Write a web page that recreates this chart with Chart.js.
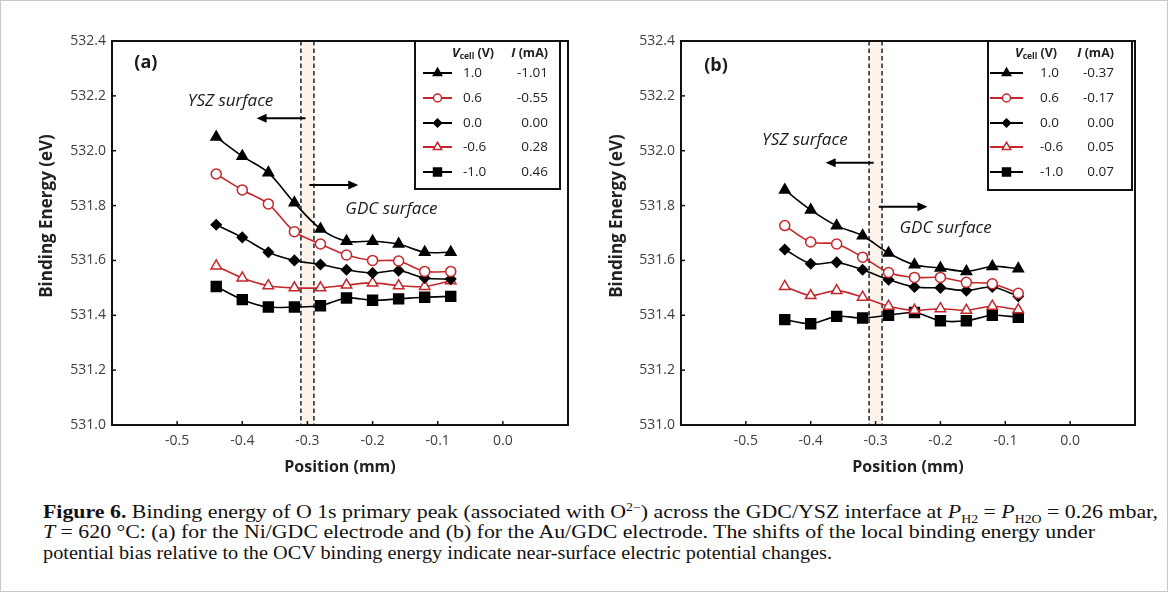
<!DOCTYPE html>
<html><head><meta charset="utf-8">
<script src="https://cdn.jsdelivr.net/npm/chart.js@4.4.1/dist/chart.umd.min.js"></script>
<style>
html,body{margin:0;padding:0;background:#fff;}
#fig{position:relative;width:1168px;height:592px;overflow:hidden;background:#fff;}
#frame{position:absolute;left:0;top:0;width:1168px;height:592px;box-sizing:border-box;border:1px solid #c8c8c8;pointer-events:none;}
.pane{position:absolute;top:0;width:584px;height:490px;}
#caption{position:absolute;left:43px;top:502px;font-family:'Liberation Serif','DejaVu Serif',serif;font-size:19px;line-height:20.3px;color:#111;white-space:nowrap;}
#caption .ln{display:inline-block;transform-origin:0 50%;}
#caption sub,#caption sup{font-size:12px;line-height:0;}
</style></head><body>
<div id="fig">
  <div class="pane" style="left:0"><canvas id="ca" width="584" height="490"></canvas></div>
  <div class="pane" style="left:569px"><canvas id="cb" width="584" height="490"></canvas></div>
  <div id="caption"><span class="ln" data-w="1115"><b>Figure 6.</b> Binding energy of O 1s primary peak (associated with O<sup>2−</sup>) across the GDC/YSZ interface at <i>P</i><sub>H2</sub> = <i>P</i><sub>H2O</sub> = 0.26 mbar,</span><br><span class="ln" data-w="1052"><i>T</i> = 620 °C: (a) for the Ni/GDC electrode and (b) for the Au/GDC electrode. The shifts of the local binding energy under</span><br><span class="ln" data-w="789">potential bias relative to the OCV binding energy indicate near-surface electric potential changes.</span></div>
  <div id="frame"></div>
</div>
<script>
// ---------- DATA ----------
const positions = [-0.44, -0.40, -0.36, -0.32, -0.28, -0.24, -0.20, -0.16, -0.12, -0.08];
const vcellLabels = ['1.0', '0.6', '0.0', '-0.6', '-1.0'];
const currentA = ['-1.01', '-0.55', '0.00', '0.28', '0.46'];
const currentB = ['-0.37', '-0.17', '0.00', '0.05', '0.07'];
const yTicks = [531.0, 531.2, 531.4, 531.6, 531.8, 532.0, 532.2, 532.4];
const xTickLabels = ['-0.5', '-0.4', '-0.3', '-0.2', '-0.1', '0.0'];

// Panel (a): Ni/GDC electrode
const a_p10 = [532.05, 531.98, 531.92, 531.81, 531.715, 531.67, 531.67, 531.66, 531.63, 531.63];
const a_p06 = [531.915, 531.857, 531.806, 531.705, 531.66, 531.62, 531.60, 531.598, 531.56, 531.56];
const a_00  = [531.73, 531.684, 531.63, 531.60, 531.585, 531.566, 531.554, 531.563, 531.536, 531.532];
const a_m06 = [531.58, 531.536, 531.508, 531.50, 531.50, 531.51, 531.518, 531.508, 531.505, 531.526];
const a_m10 = [531.505, 531.457, 531.43, 531.43, 531.435, 531.463, 531.455, 531.46, 531.466, 531.469];

// Panel (b): Au/GDC electrode
const b_p10 = [531.857, 531.784, 531.726, 531.69, 531.627, 531.584, 531.572, 531.56, 531.578, 531.57];
const b_p06 = [531.727, 531.667, 531.66, 531.612, 531.556, 531.538, 531.538, 531.52, 531.515, 531.48];
const b_00  = [531.64, 531.588, 531.593, 531.566, 531.53, 531.503, 531.50, 531.49, 531.503, 531.469];
const b_m06 = [531.505, 531.472, 531.49, 531.466, 531.433, 531.418, 531.424, 531.418, 531.433, 531.42];
const b_m10 = [531.384, 531.369, 531.396, 531.39, 531.40, 531.41, 531.38, 531.38, 531.40, 531.393];

const interfaceBand = [-0.31, -0.29];

// ---------- STYLE ----------
const RED = '#c3262b';
const FONT = "'Open Sans', 'Noto Sans', sans-serif";
const seriesStyles = [
  {color: '#000', pointStyle: 'triangle', radius: 6, fill: '#000'},
  {color: RED,    pointStyle: 'circle',   radius: 5, fill: '#fff'},
  {color: '#000', pointStyle: 'rectRot',  radius: 5, fill: '#000'},
  {color: RED,    pointStyle: 'triangle', radius: 6, fill: '#fff'},
  {color: '#000', pointStyle: 'rect',     radius: 7, fill: '#000'}
];

function drawMarker(ctx, st, x, y, scale) {
  const r = st.radius * scale;
  ctx.save();
  ctx.fillStyle = st.fill; ctx.strokeStyle = st.color; ctx.lineWidth = 1.5;
  ctx.beginPath();
  if (st.pointStyle === 'triangle') {
    ctx.moveTo(x, y - r); ctx.lineTo(x + r * 0.866, y + r * 0.5); ctx.lineTo(x - r * 0.866, y + r * 0.5); ctx.closePath();
  } else if (st.pointStyle === 'circle') {
    ctx.arc(x, y, r, 0, Math.PI * 2);
  } else if (st.pointStyle === 'rectRot') {
    ctx.moveTo(x, y - r); ctx.lineTo(x + r, y); ctx.lineTo(x, y + r); ctx.lineTo(x - r, y); ctx.closePath();
  } else {
    const s = r * 0.7071; ctx.rect(x - s, y - s, 2 * s, 2 * s);
  }
  ctx.fill(); ctx.stroke(); ctx.restore();
}

function arrow(ctx, x1, y, x2) {
  const dir = Math.sign(x2 - x1);
  ctx.save();
  ctx.strokeStyle = '#000'; ctx.fillStyle = '#000'; ctx.lineWidth = 2;
  ctx.beginPath(); ctx.moveTo(x1, y); ctx.lineTo(x2 - dir * 8, y); ctx.stroke();
  ctx.beginPath(); ctx.moveTo(x2, y); ctx.lineTo(x2 - dir * 10, y - 4.5); ctx.lineTo(x2 - dir * 10, y + 4.5); ctx.closePath(); ctx.fill();
  ctx.restore();
}

const decorPlugin = {
  id: 'decor',
  beforeDatasetsDraw(chart, args, o) {
    const {ctx, chartArea: ca, scales: {x, y}} = chart;
    const bx1 = x.getPixelForValue(interfaceBand[0]), bx2 = x.getPixelForValue(interfaceBand[1]);
    ctx.save();
    ctx.fillStyle = '#fdf3ea';
    ctx.fillRect(bx1, ca.top, bx2 - bx1, ca.bottom - ca.top);
    ctx.strokeStyle = '#222'; ctx.lineWidth = 1.5; ctx.setLineDash([4.5, 3]);
    [bx1, bx2].forEach(px => { ctx.beginPath(); ctx.moveTo(px, ca.top); ctx.lineTo(px, ca.bottom); ctx.stroke(); });
    ctx.restore();
    o.arrows.forEach(a => arrow(ctx, x.getPixelForValue(a.from), y.getPixelForValue(a.y), x.getPixelForValue(a.to)));
    ctx.save();
    ctx.textAlign = 'center'; ctx.textBaseline = 'middle';
    o.texts.forEach(t => {
      ctx.font = t.font; ctx.fillStyle = '#1a1a1a';
      ctx.fillText(t.text, x.getPixelForValue(t.x), y.getPixelForValue(t.y));
    });
    ctx.restore();
  },
  afterDraw(chart, args, o) {
    const {ctx, chartArea: ca, scales: {x, y}} = chart;
    ctx.save();
    ctx.strokeStyle = '#111'; ctx.lineWidth = 1.5;
    y.ticks.forEach(t => { const py = y.getPixelForValue(t.value); ctx.beginPath(); ctx.moveTo(ca.left, py); ctx.lineTo(ca.left + 4, py); ctx.stroke(); });
    x.ticks.forEach(t => { const px = x.getPixelForValue(t.value); ctx.beginPath(); ctx.moveTo(px, ca.bottom); ctx.lineTo(px, ca.bottom - 4); ctx.stroke(); });
    ctx.strokeStyle = '#111'; ctx.lineWidth = 2;
    ctx.strokeRect(ca.left, ca.top, ca.right - ca.left, ca.bottom - ca.top);
    ctx.save();
    ctx.translate(o.yTitle.x, o.yTitle.y); ctx.rotate(-Math.PI / 2);
    ctx.font = "bold 17px " + FONT; ctx.fillStyle = '#222'; ctx.textAlign = 'center'; ctx.textBaseline = 'middle';
    ctx.fillText('Binding Energy (eV)', 0, 0);
    ctx.restore();
    const L = o.legend;
    ctx.fillStyle = '#fff';
    ctx.fillRect(L.left, L.top, L.right - L.left, L.bottom - L.top);
    ctx.strokeStyle = '#111'; ctx.lineWidth = 2;
    ctx.strokeRect(L.left, L.top, L.right - L.left, L.bottom - L.top);
    ctx.fillStyle = '#222'; ctx.textBaseline = 'middle';
    let hx = L.hdrV;
    ctx.textAlign = 'left';
    ctx.font = "italic bold 13px " + FONT; ctx.fillText('V', hx, L.hdrY); hx += ctx.measureText('V').width;
    ctx.font = "bold 8.5px " + FONT; ctx.fillText('cell', hx, L.hdrY + 4); hx += ctx.measureText('cell').width;
    ctx.font = "bold 12.5px " + FONT; ctx.fillText(' (V)', hx, L.hdrY);
    ctx.font = "bold 12.5px " + FONT;
    const mw = ctx.measureText(' (mA)').width;
    ctx.textAlign = 'right'; ctx.fillText(' (mA)', L.curR, L.hdrY);
    ctx.font = "italic bold 13px " + FONT; ctx.fillText('I', L.curR - mw, L.hdrY);
    ctx.font = "13.5px " + FONT;
    o.currents.forEach((c, i) => {
      const ry = L.rows[i], st = seriesStyles[i];
      ctx.strokeStyle = st.color; ctx.lineWidth = 2;
      ctx.beginPath(); ctx.moveTo(L.lineX1, ry); ctx.lineTo(L.lineX2, ry); ctx.stroke();
      drawMarker(ctx, st, (L.lineX1 + L.lineX2) / 2, ry, 0.8);
      ctx.fillStyle = '#222'; ctx.textAlign = 'left'; ctx.fillText(vcellLabels[i], L.valX, ry);
      ctx.textAlign = 'right'; ctx.fillText(c, L.curR, ry);
    });
    ctx.restore();
  }
};

function makePanel(id, series, currents, padRight, decor) {
  const datasets = series.map((vals, i) => {
    const st = seriesStyles[i];
    return {
      label: vcellLabels[i],
      data: positions.map((p, k) => ({x: p, y: vals[k]})),
      borderColor: st.color, borderWidth: 1.6,
      pointStyle: st.pointStyle, pointRadius: st.radius, pointHoverRadius: st.radius,
      pointBackgroundColor: st.fill, pointBorderColor: st.color, pointBorderWidth: 1.5,
      tension: 0.3, fill: false
    };
  });
  decor.currents = currents;
  return new Chart(document.getElementById(id), {
    type: 'line',
    data: {datasets},
    options: {
      responsive: false, animation: false, devicePixelRatio: 1,
      layout: {padding: {left: 0, top: 41, right: padRight, bottom: 0}},
      plugins: {legend: {display: false}, tooltip: {enabled: false}, decor},
      scales: {
        x: {
          type: 'linear', min: -0.6, max: 0.1,
          afterFit: s => { s.height = 65; },
          grid: {display: false, drawTicks: false},
          border: {display: false},
          ticks: {
            stepSize: 0.1, padding: 8, color: '#404040', font: {family: FONT, size: 14},
            callback: v => { const s = (Math.abs(v) < 1e-9 ? 0 : v).toFixed(1); return xTickLabels.includes(s) ? s : ''; }
          },
          title: {display: true, text: 'Position (mm)', color: '#222', font: {family: FONT, size: 16, weight: 'bold'}, padding: {top: 0, bottom: 13}}
        },
        y: {
          type: 'linear', min: yTicks[0], max: yTicks[yTicks.length - 1],
          afterFit: s => { s.width = 112; },
          grid: {display: false, drawTicks: false},
          border: {display: false},
          ticks: {stepSize: 0.2, padding: 6, color: '#404040', font: {family: FONT, size: 14}, callback: v => v.toFixed(1)}
        }
      }
    },
    plugins: [decorPlugin]
  });
}

makePanel('ca', [a_p10, a_p06, a_00, a_m06, a_m10], currentA, 16, {
  yTitle: {x: 47, y: 216},
  arrows: [{from: -0.303, to: -0.378, y: 532.118}, {from: -0.297, to: -0.222, y: 531.875}],
  texts: [
    {text: '(a)', x: -0.548, y: 532.32, font: "bold 18px " + FONT},
    {text: 'YSZ surface', x: -0.418, y: 532.18, font: "italic 17px " + FONT},
    {text: 'GDC surface', x: -0.171, y: 531.788, font: "italic 17px " + FONT}
  ],
  legend: {left: 415, right: 560, top: 41, bottom: 189, hdrY: 53, hdrV: 452, rows: [73, 98, 123, 147, 172],
           lineX1: 423, lineX2: 452, valX: 463, curR: 548}
});

makePanel('cb', [b_p10, b_p06, b_00, b_m06, b_m10], currentB, 18, {
  yTitle: {x: 48, y: 216},
  arrows: [{from: -0.303, to: -0.377, y: 531.956}, {from: -0.295, to: -0.220, y: 531.796}],
  texts: [
    {text: '(b)', x: -0.546, y: 532.31, font: "bold 18px " + FONT},
    {text: 'YSZ surface', x: -0.409, y: 532.04, font: "italic 17px " + FONT},
    {text: 'GDC surface', x: -0.192, y: 531.719, font: "italic 17px " + FONT}
  ],
  legend: {left: 419, right: 563, top: 41, bottom: 190, hdrY: 53, hdrV: 446, rows: [73, 98, 123, 147, 172],
           lineX1: 421, lineX2: 454, valX: 471, curR: 545}
});

// fit caption lines to the reference line lengths
document.querySelectorAll('#caption .ln').forEach(el => {
  const w = el.getBoundingClientRect().width;
  const target = +el.dataset.w;
  if (w > 0) el.style.transform = 'scaleX(' + (target / w).toFixed(4) + ')';
});
</script>
</body></html>
